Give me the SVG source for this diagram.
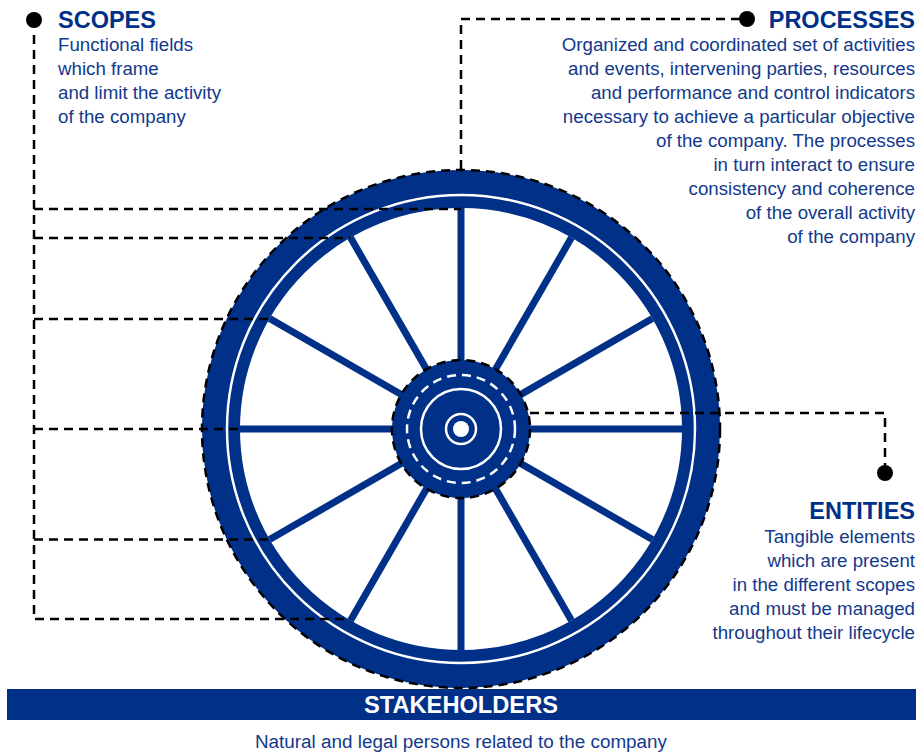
<svg xmlns="http://www.w3.org/2000/svg" width="920" height="753" viewBox="0 0 920 753">
<style>
.t{font-family:"Liberation Sans",Arial,sans-serif;font-weight:bold;font-size:23.5px;fill:#003087}
.b{font-family:"Liberation Sans",Arial,sans-serif;font-size:18.7px;fill:#12398c}
.r{text-anchor:end}
.dash{fill:none;stroke:#000;stroke-width:2.5;stroke-dasharray:9 6}
.spoke{stroke:#003087;stroke-width:7}
</style>
<rect width="920" height="753" fill="#fff"/>
<g id="wheel">
<circle cx="461" cy="429" r="240" fill="none" stroke="#003087" stroke-width="38"/>
<circle cx="461" cy="429" r="234" fill="none" stroke="#fff" stroke-width="2.5"/>
<g class="spoke">
<line x1="461" y1="429" x2="461" y2="208"/>
<line x1="461" y1="429" x2="461" y2="650"/>
<line x1="461" y1="429" x2="240" y2="429"/>
<line x1="461" y1="429" x2="682" y2="429"/>
<line x1="461" y1="429" x2="350.5" y2="237.6"/>
<line x1="461" y1="429" x2="571.5" y2="237.6"/>
<line x1="461" y1="429" x2="350.5" y2="620.4"/>
<line x1="461" y1="429" x2="571.5" y2="620.4"/>
<line x1="461" y1="429" x2="269.6" y2="318.5"/>
<line x1="461" y1="429" x2="652.4" y2="318.5"/>
<line x1="461" y1="429" x2="269.6" y2="539.5"/>
<line x1="461" y1="429" x2="652.4" y2="539.5"/>
</g>
<circle cx="461" cy="429" r="259" class="dash"/>
</g>
<g id="hub">
<circle cx="461" cy="429" r="69" fill="#003087"/>
<circle cx="461" cy="429" r="69" class="dash"/>
<circle cx="461" cy="429" r="54" fill="none" stroke="#fff" stroke-width="2.5" stroke-dasharray="9 6"/>
<circle cx="461" cy="429" r="40" fill="none" stroke="#fff" stroke-width="2.5"/>
<circle cx="461" cy="429" r="15" fill="none" stroke="#fff" stroke-width="2.5"/>
<circle cx="461" cy="429" r="8" fill="#fff"/>
</g>
<g id="connectors">
<path class="dash" d="M34 35 V619 H350.5"/>
<path class="dash" d="M34 209 H461"/>
<path class="dash" d="M34 238 H350.5"/>
<path class="dash" d="M34 319 H269.6"/>
<path class="dash" d="M34 429 H240"/>
<path class="dash" d="M34 539.5 H269.6"/>
<path class="dash" d="M740 19 H461 V170"/>
<path class="dash" d="M530 413 H885 V465"/>
</g>
<g id="scopes">
<circle cx="34" cy="20" r="8" fill="#000"/>
<text class="t" x="58" y="28">SCOPES</text>
<text class="b" x="58" y="51">Functional fields</text>
<text class="b" x="58" y="75">which frame</text>
<text class="b" x="58" y="99">and limit the activity</text>
<text class="b" x="58" y="123">of the company</text>
</g>
<g id="processes">
<circle cx="747" cy="19" r="8" fill="#000"/>
<text class="t r" x="915" y="28">PROCESSES</text>
<text class="b r" x="915" y="51">Organized and coordinated set of activities</text>
<text class="b r" x="915" y="75">and events, intervening parties, resources</text>
<text class="b r" x="915" y="99">and performance and control indicators</text>
<text class="b r" x="915" y="123">necessary to achieve a particular objective</text>
<text class="b r" x="915" y="147">of the company. The processes</text>
<text class="b r" x="915" y="171">in turn interact to ensure</text>
<text class="b r" x="915" y="195">consistency and coherence</text>
<text class="b r" x="915" y="219">of the overall activity</text>
<text class="b r" x="915" y="243">of the company</text>
</g>
<g id="entities">
<circle cx="885" cy="473" r="8" fill="#000"/>
<text class="t r" x="915" y="519">ENTITIES</text>
<text class="b r" x="915" y="543">Tangible elements</text>
<text class="b r" x="915" y="567">which are present</text>
<text class="b r" x="915" y="591">in the different scopes</text>
<text class="b r" x="915" y="615">and must be managed</text>
<text class="b r" x="915" y="639">throughout their lifecycle</text>
</g>
<g id="stakeholders">
<rect x="7" y="689" width="909" height="31" fill="#003087"/>
<text x="461" y="713" text-anchor="middle" font-family="'Liberation Sans',Arial,sans-serif" font-weight="bold" font-size="23" fill="#fff" textLength="194" lengthAdjust="spacingAndGlyphs">STAKEHOLDERS</text>
<text x="461" y="748" text-anchor="middle" font-family="'Liberation Sans',Arial,sans-serif" font-size="18" fill="#12398c" textLength="412" lengthAdjust="spacingAndGlyphs">Natural and legal persons related to the company</text>
</g>
</svg>
